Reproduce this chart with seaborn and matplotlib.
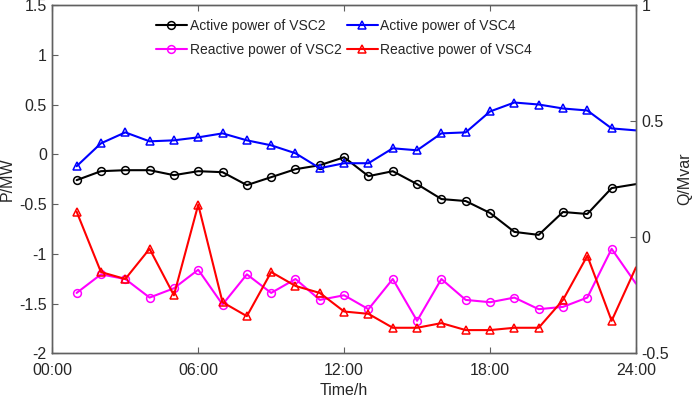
import numpy as np
import pandas as pd
import seaborn as sns
import matplotlib as mpl
import matplotlib.pyplot as plt

sns.set_style("white")
mpl.rcParams["font.family"] = ["Liberation Sans", "DejaVu Sans"]
mpl.rcParams["font.size"] = 11.5

# hourly values, last entry is where the curve leaves the box at 24:00
hours = list(range(1, 25))
p_vsc2 = [-0.26, -0.17, -0.16, -0.16, -0.21, -0.17, -0.18, -0.31, -0.23, -0.15, -0.11, -0.03,
          -0.22, -0.17, -0.30, -0.45, -0.47, -0.59, -0.78, -0.81, -0.58, -0.60, -0.34, -0.30]
p_vsc4 = [-0.12, 0.11, 0.22, 0.13, 0.14, 0.17, 0.21, 0.14, 0.09, 0.01, -0.14, -0.09,
          -0.09, 0.06, 0.04, 0.21, 0.22, 0.43, 0.52, 0.50, 0.46, 0.44, 0.26, 0.24]
q_vsc2 = [-0.24, -0.16, -0.18, -0.26, -0.22, -0.14, -0.29, -0.16, -0.24, -0.18, -0.27, -0.25,
          -0.31, -0.18, -0.36, -0.18, -0.27, -0.28, -0.26, -0.31, -0.30, -0.26, -0.05, -0.20]
q_vsc4 = [0.11, -0.15, -0.18, -0.05, -0.25, 0.14, -0.28, -0.34, -0.15, -0.21, -0.24, -0.32,
          -0.33, -0.39, -0.39, -0.37, -0.40, -0.40, -0.39, -0.39, -0.27, -0.08, -0.36, -0.13]

labels = ["Active power of VSC2", "Active power of VSC4",
          "Reactive power of VSC2", "Reactive power of VSC4"]

df = pd.DataFrame({"hour": hours, "p2": p_vsc2, "p4": p_vsc4, "q2": q_vsc2, "q4": q_vsc4})

fig = plt.figure(figsize=(6.92, 3.99), dpi=100)
ax = fig.add_axes([0.0756, 0.1145, 0.8434, 0.873])
ax2 = ax.twinx()

style = dict(lw=1.5, markersize=5.6, markerfacecolor="none", markeredgewidth=1.1,
             markevery=slice(0, 23), clip_on=True)
sns.lineplot(data=df, x="hour", y="p2", ax=ax, color="black", marker="o",
             markeredgecolor="black", label=labels[0], legend=False, **style)
sns.lineplot(data=df, x="hour", y="p4", ax=ax, color="blue", marker="^",
             markeredgecolor="blue", label=labels[1], legend=False, **style)
sns.lineplot(data=df, x="hour", y="q2", ax=ax2, color="magenta", marker="o",
             markeredgecolor="magenta", label=labels[2], legend=False, **style)
sns.lineplot(data=df, x="hour", y="q4", ax=ax2, color="red", marker="^",
             markeredgecolor="red", label=labels[3], legend=False, **style)

ax.set_xlim(0, 24)
ax.set_ylim(-2, 1.5)
ax2.set_ylim(-0.5, 1)
ax.set_xticks([0, 6, 12, 18, 24])
ax.set_xticklabels(["00:00", "06:00", "12:00", "18:00", "24:00"])
ax.set_yticks(np.arange(-2, 1.51, 0.5))
ax.set_yticklabels(["-2", "-1.5", "-1", "-0.5", "0", "0.5", "1", "1.5"])
ax2.set_yticks([-0.5, 0, 0.5, 1])
ax2.set_yticklabels(["-0.5", "0", "0.5", "1"])

ax.set_xlabel("Time/h", labelpad=3.5)
ax.set_ylabel("P/MW", labelpad=3)
ax2.set_ylabel("Q/Mvar", labelpad=6)

edge = "#606060"
for a in (ax, ax2):
    for s in a.spines.values():
        s.set_color(edge)
        s.set_linewidth(1.0)
ax.tick_params(axis="x", direction="in", length=4, color=edge, top=True, bottom=True, pad=7)
ax.tick_params(axis="y", direction="in", length=4, color=edge, left=True, right=False, pad=4)
ax2.tick_params(axis="y", direction="in", length=4, color=edge, right=True, left=False, pad=4)

h1, l1 = ax.get_legend_handles_labels()
h2, l2 = ax2.get_legend_handles_labels()
handles = [h1[0], h2[0], h1[1], h2[1]]
names = [l1[0], l2[0], l1[1], l2[1]]
ax2.legend(handles, names, ncol=2, loc="upper center", bbox_to_anchor=(0.5, 0.985),
           frameon=False, fontsize=10, handlelength=2.2, handletextpad=0.2,
           columnspacing=0.4, labelspacing=0.72, borderaxespad=0.2)

fig.savefig("out.png", dpi=100)
